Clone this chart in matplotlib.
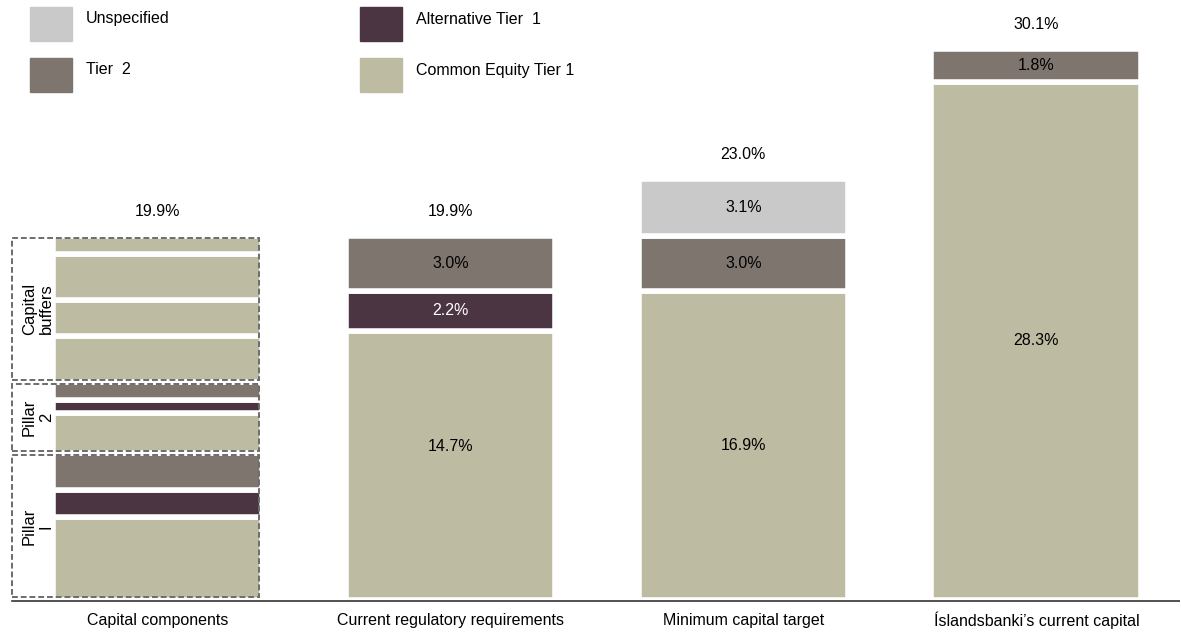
import matplotlib
matplotlib.use("Agg")
import matplotlib.pyplot as plt
from matplotlib.patches import Rectangle

plt.rcParams['font.family'] = ['Liberation Sans', 'DejaVu Sans']

# categories on the x axis
categories = ["Capital components", "Current regulatory requirements",
              "Minimum capital target", "Íslandsbanki’s current capital"]

# capital components, split by group (bottom to top)
pillar1 = [4.5, 1.5, 2.0]           # CET1, AT1, T2
pillar1_kind = ["cet1", "at1", "t2"]
pillar2 = [2.2, 0.7, 1.0]
pillar2_kind = ["cet1", "at1", "t2"]
buffers = [2.5, 2.0, 2.5, 1.0]      # all CET1
buffers_kind = ["cet1", "cet1", "cet1", "cet1"]
group_labels = ["Pillar\nI", "Pillar\n2", "Capital\nbuffers"]

# the other three bars
cet1 = [14.7, 16.9, 28.3]
at1 = [2.2, 0.0, 0.0]
tier2 = [3.0, 3.0, 1.8]
unspecified = [0.0, 3.1, 0.0]
totals = [19.9, 19.9, 23.0, 30.1]

colors = {"cet1": "#bdbba1", "at1": "#4b3542", "t2": "#7e756f", "unspec": "#c8c9c8"}
names = {"unspec": "Unspecified", "t2": "Tier  2",
         "at1": "Alternative Tier  1", "cet1": "Common Equity Tier 1"}

FS = 11.5

fig = plt.figure(figsize=(11.81, 6.32), dpi=100)
ax = fig.add_axes([0.0043, 0.04557, 0.9948, 0.9315])
ax.set_xlim(-0.52, 3.49)
ax.set_ylim(-0.2, 32)
ax.axis("off")

W = 0.716
EDGE = 4
INSET = 0.12

# first bar: stacked components with dashed group boxes
bottom = 0.0
for vals, kinds, lab in zip([pillar1, pillar2, buffers],
                            [pillar1_kind, pillar2_kind, buffers_kind], group_labels):
    start = bottom
    for v, k in zip(vals, kinds):
        ax.bar(0, v, W, bottom=bottom, color=colors[k], edgecolor="white", linewidth=EDGE)
        bottom += v
    top = bottom
    box = Rectangle((-0.498, start + INSET), 0.844, (top - start) - 2 * INSET,
                    fill=False, edgecolor="#6d6d6d", linewidth=1.4,
                    linestyle=(0, (3, 1.5)), zorder=3)
    ax.add_patch(box)
    ax.text(-0.408, (start + top) / 2, lab, rotation=90, ha="center", va="center",
            fontsize=12, linespacing=1.15)

# label positions inside the bars (fraction of segment height)
label_pos = {(0, "cet1"): 0.57}

for i in range(3):
    x = i + 1
    bottom = 0.0
    for k, v in [("cet1", cet1[i]), ("at1", at1[i]), ("t2", tier2[i]), ("unspec", unspecified[i])]:
        if v <= 0:
            continue
        ax.bar(x, v, W, bottom=bottom, color=colors[k], edgecolor="white", linewidth=EDGE)
        frac = label_pos.get((i, k), 0.5)
        ax.text(x, bottom + v * frac, f"{v:.1f}%", ha="center", va="center", fontsize=FS,
                color="white" if k == "at1" else "black")
        bottom += v

# totals above the bars
for x, t in enumerate(totals):
    ax.annotate(f"{t:.1f}%", (x, t), xytext=(0, 17.5), textcoords="offset points",
                ha="center", va="center", fontsize=FS)

# baseline and category labels
ax.plot([-0.498, 3.49], [-0.066, -0.066], color="#222222", linewidth=1.1)
for x, c in enumerate(categories):
    ax.text(x, -1.12, c, ha="center", va="center", fontsize=FS)

# legend drawn by hand in figure pixels
def px(x, y):
    return x / 1181, 1 - y / 632

legend_items = [("unspec", 30, 7), ("t2", 30, 58), ("at1", 360, 7), ("cet1", 360, 58)]
for k, lx, ly in legend_items:
    x0, y0 = px(lx, ly + 34)
    fig.add_artist(Rectangle((x0, y0), 42 / 1181, 34 / 632, transform=fig.transFigure,
                             color=colors[k]))
    tx, ty = px(lx + 56, ly + 12)
    fig.text(tx, ty, names[k], ha="left", va="center", fontsize=FS)

fig.savefig("out.png", dpi=100)
